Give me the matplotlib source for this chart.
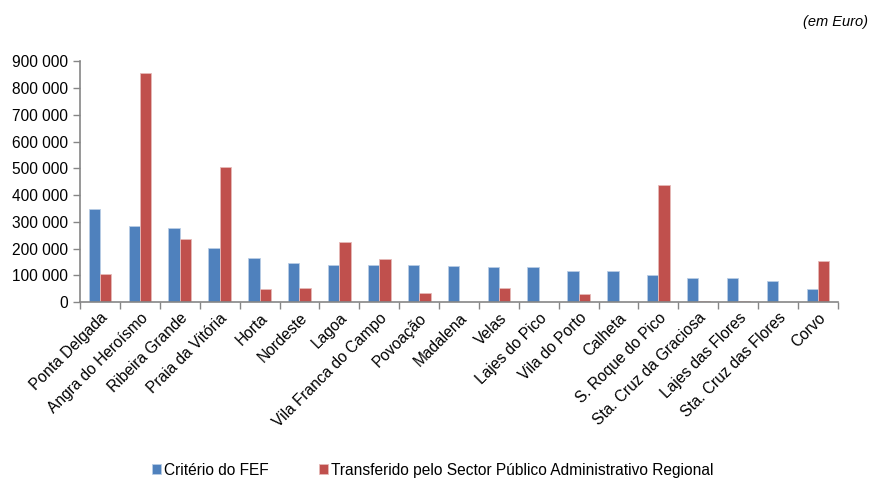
import matplotlib
matplotlib.use("Agg")
import matplotlib.pyplot as plt
import numpy as np
from matplotlib.ticker import FuncFormatter, FixedLocator

categories = ["Ponta Delgada", "Angra do Heroísmo", "Ribeira Grande", "Praia da Vitória",
              "Horta", "Nordeste", "Lagoa", "Vila Franca do Campo", "Povoação", "Madalena",
              "Velas", "Lajes do Pico", "Vila do Porto", "Calheta", "S. Roque do Pico",
              "Sta. Cruz da Graciosa", "Lajes das Flores", "Sta. Cruz das Flores", "Corvo"]
criterio_fef = [348000, 283000, 277000, 203000, 166000, 146000, 140000, 140000, 138000, 136000,
                131000, 130000, 117000, 115000, 102000, 91000, 91000, 77000, 50000]
transferido = [105000, 855000, 237000, 505000, 50000, 54000, 224000, 161000, 32000, 0,
               52000, 0, 31000, 0, 439000, 2000, 2000, 0, 153000]
series_names = ["Critério do FEF", "Transferido pelo Sector Público Administrativo Regional"]

plt.rcParams['font.family'] = ['Liberation Sans', 'DejaVu Sans']

fig = plt.figure(figsize=(8.71, 4.79), dpi=100)
ax = fig.add_axes([0.092, 0.3695, 0.870, 0.5025])

x = np.arange(len(categories))
w = 0.285
ax.bar(x - w/2, criterio_fef, w, color="#4F81BD", edgecolor="#B9CDE5", linewidth=0.6, label=series_names[0])
ax.bar(x + w/2, transferido, w, color="#C0504D", edgecolor="#E6B9B8", linewidth=0.6, label=series_names[1])

ax.set_xlim(-0.5, len(categories) - 0.5)
ax.set_ylim(0, 900000)
ax.set_yticks(np.arange(0, 900001, 100000))
ax.yaxis.set_major_formatter(FuncFormatter(lambda v, p: f"{int(v):,}".replace(",", " ")))

ax.set_xticks(x)
ax.set_xticklabels(categories, rotation=45, ha="right", rotation_mode="anchor", fontsize=11.2)
ax.xaxis.set_minor_locator(FixedLocator(np.arange(-0.5, len(categories), 1.0)))
ax.tick_params(axis="x", which="major", length=0, pad=6)
ax.tick_params(axis="x", which="minor", length=5, width=1, color="#868686", direction="out")
ax.tick_params(axis="y", length=5, width=1, color="#868686", labelsize=11.2, direction="out", pad=4)

for s in ["top", "right"]:
    ax.spines[s].set_visible(False)
for s in ["left", "bottom"]:
    ax.spines[s].set_color("#868686")
    ax.spines[s].set_linewidth(1.2)

fig.text(0.997, 0.955, "(em Euro)", ha="right", va="center", fontsize=10.5, style="italic")

leg = fig.legend(loc="center", bbox_to_anchor=(0.497, 0.018), ncol=2, frameon=False,
                 fontsize=11.2, handlelength=0.6, handleheight=0.6, handletextpad=0.2,
                 columnspacing=3.2)

fig.savefig("out.png", dpi=100)
